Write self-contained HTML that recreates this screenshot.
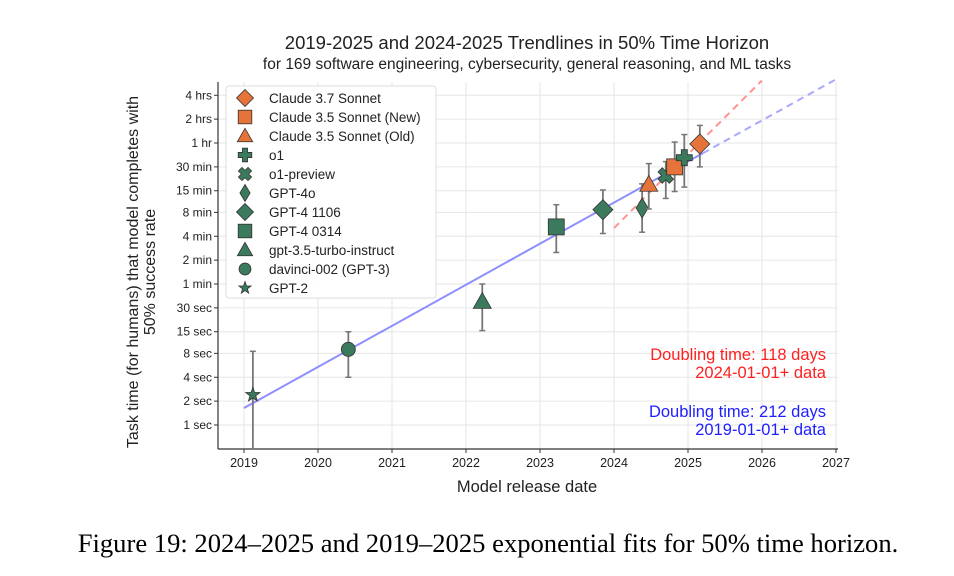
<!DOCTYPE html>
<html><head><meta charset="utf-8">
<style>
body{margin:0;background:#fff;width:954px;height:576px;overflow:hidden;font-family:"Liberation Sans",sans-serif;}
svg{position:absolute;left:0;top:0;}
</style></head>
<body>
<svg id="chart" width="954" height="576" viewBox="0 0 954 576" xmlns="http://www.w3.org/2000/svg">
<text x="527" y="49" text-anchor="middle" font-size="18.5" fill="#222">2019-2025 and 2024-2025 Trendlines in 50% Time Horizon</text>
<text x="527" y="69" text-anchor="middle" font-size="15.5" fill="#222">for 169 software engineering, cybersecurity, general reasoning, and ML tasks</text>
<g id="grid"></g>
<g id="axes"></g>
<g id="lines"></g>
<g id="points"></g>
<g id="legend"></g>
<text x="826" y="360" text-anchor="end" font-size="16.5" fill="#ff2020">Doubling time: 118 days</text>
<text x="826" y="378" text-anchor="end" font-size="16.5" fill="#ff2020">2024-01-01+ data</text>
<text x="826" y="417" text-anchor="end" font-size="16.5" fill="#2020ff">Doubling time: 212 days</text>
<text x="826" y="435" text-anchor="end" font-size="16.5" fill="#2020ff">2019-01-01+ data</text>
<text x="527" y="492" text-anchor="middle" font-size="16.5" fill="#222">Model release date</text>
<text transform="translate(138,272) rotate(-90)" text-anchor="middle" font-size="16" fill="#222">Task time (for humans) that model completes with</text>
<text transform="translate(155,272) rotate(-90)" text-anchor="middle" font-size="16" fill="#222">50% success rate</text>
<text x="488" y="552" text-anchor="middle" font-size="26.6" font-family="Liberation Serif, serif" fill="#000">Figure 19: 2024–2025 and 2019–2025 exponential fits for 50% time horizon.</text>
</svg>
<script>
const xTicks=[2019,2020,2021,2022,2023,2024,2025,2026,2027];
const yTickSecs=[1,2,4,8,15,30,60,120,240,480,900,1800,3600,7200,14400];
const yTickLabels=["1 sec","2 sec","4 sec","8 sec","15 sec","30 sec","1 min","2 min","4 min","8 min","15 min","30 min","1 hr","2 hrs","4 hrs"];
const models=["GPT-2","davinci-002 (GPT-3)","gpt-3.5-turbo-instruct","GPT-4 0314","GPT-4 1106","GPT-4o","Claude 3.5 Sonnet (Old)","o1-preview","Claude 3.5 Sonnet (New)","o1","Claude 3.7 Sonnet"];
const releaseYears=[2019.12,2020.41,2022.22,2023.22,2023.85,2024.38,2024.47,2024.70,2024.82,2024.95,2025.16];
const horizonSecs=[2.4,9,36,315,520,545,1080,1400,1800,2350,3500];
const errLowSecs=[0.1,4,15.5,150,260,270,530,720,880,1000,1800];
const errHighSecs=[8.5,15,60,600,920,1100,1980,2100,3700,4600,6000];
const markers=["star","circle","triangle","square","diamond","thindiamond","triangle","x","square","plus","diamond"];
const colors=["g","g","g","g","g","g","o","g","o","g","o"];
const legendOrder=[10,8,6,9,7,5,4,3,2,1,0];
const blueStart=[2019,0.71]; const blueDoubling=212; const blueSolidEnd=2025.2; const blueEnd=2027;
const redStart=[2024,8.25]; const redDoubling=118; const redEnd=2026;

const NS="http://www.w3.org/2000/svg";
const X0=244,PXY=74.0,Y1=425,PXD=23.87;
const xs=y=>X0+(y-2019)*PXY;
const ys=s=>Y1-Math.log2(s)*PXD;
const yl=l=>Y1-l*PXD;
const C={g:"#3b7a5c",o:"#e5733a"};
function mk(tag,attrs,parent){const e=document.createElementNS(NS,tag);for(const k in attrs)e.setAttribute(k,attrs[k]);parent.appendChild(e);return e;}
const grid=document.getElementById('grid'),axes=document.getElementById('axes');
const L=218,R=838,T=82,B=449;
xTicks.forEach(t=>{const x=xs(t);
 const g=mk('line',{x1:x,x2:x,y1:T,y2:B,stroke:'#e6e6e6','stroke-width':1},grid);
 
 mk('line',{x1:x,x2:x,y1:B,y2:B+4,stroke:'#333'},axes);
 const tx=mk('text',{x:x,y:B+18,'text-anchor':'middle','font-size':12.5,fill:'#222'},axes);tx.textContent=t;
 
});
yTickSecs.forEach((s,i)=>{const y=ys(s);
 const g=mk('line',{x1:L,x2:R,y1:y,y2:y,stroke:'#e6e6e6','stroke-width':1},grid);
 
 mk('line',{x1:L-4,x2:L,y1:y,y2:y,stroke:'#333'},axes);
 const tx=mk('text',{x:L-6,y:y+4,'text-anchor':'end','font-size':12,fill:'#222'},axes);tx.textContent=yTickLabels[i];
 
});
mk('line',{x1:L,x2:L,y1:T,y2:B,stroke:'#333','stroke-width':1.2},axes);
mk('line',{x1:L,x2:R,y1:B,y2:B,stroke:'#333','stroke-width':1.2},axes);
const lines=document.getElementById('lines');
function trend(start,dbl,y0,y1,color,dash,name){
 const f=y=>yl(start[1]+(y-start[0])*365/dbl);
 const l=mk('line',{x1:xs(y0),y1:f(y0),x2:xs(y1),y2:f(y1),stroke:color,'stroke-width':2,'stroke-dasharray':dash||'none',opacity:0.85},lines);
 
}
trend(blueStart,blueDoubling,blueStart[0],blueSolidEnd,'#7b7bff','', 'blue-trend-solid');
trend(blueStart,blueDoubling,blueSolidEnd,blueEnd,'#9a9aff','7,5','blue-trend-dashed');
trend(redStart,redDoubling,redStart[0],redEnd,'#ff8080','7,5','red-trend-dashed');

function marker(type,cx,cy,col,par,sc){
 sc=sc||1;const st={fill:col,stroke:'#333','stroke-width':0.8};let e;
 const a=o=>Object.assign({},st,o);
 if(type=='circle')e=mk('circle',a({cx:cx,cy:cy,r:7*sc}),par);
 else if(type=='square')e=mk('rect',a({x:cx-8*sc,y:cy-8*sc,width:16*sc,height:16*sc}),par);
 else if(type=='diamond'){const r=10*sc;e=mk('polygon',a({points:`${cx},${cy-r} ${cx+r},${cy} ${cx},${cy+r} ${cx-r},${cy}`}),par);}
 else if(type=='thindiamond'){const r=10*sc,w=6*sc;e=mk('polygon',a({points:`${cx},${cy-r} ${cx+w},${cy} ${cx},${cy+r} ${cx-w},${cy}`}),par);}
 else if(type=='triangle'){const r=9*sc;e=mk('polygon',a({points:`${cx},${cy-r} ${cx+r},${cy+r*0.75} ${cx-r},${cy+r*0.75}`}),par);}
 else if(type=='star'){let p=[];for(let i=0;i<10;i++){const rr=(i%2?3:7.5)*sc,an=-Math.PI/2+i*Math.PI/5;p.push((cx+rr*Math.cos(an)).toFixed(1)+','+(cy+rr*Math.sin(an)).toFixed(1));}e=mk('polygon',a({points:p.join(' ')}),par);}
 else if(type=='plus'){const w=3*sc,r=8*sc;e=mk('polygon',a({points:`${cx-w},${cy-r} ${cx+w},${cy-r} ${cx+w},${cy-w} ${cx+r},${cy-w} ${cx+r},${cy+w} ${cx+w},${cy+w} ${cx+w},${cy+r} ${cx-w},${cy+r} ${cx-w},${cy+w} ${cx-r},${cy+w} ${cx-r},${cy-w} ${cx-w},${cy-w}`}),par);}
 else if(type=='x'){const g=mk('g',{transform:`rotate(45 ${cx} ${cy})`},par);return marker('plus',cx,cy,col,g,sc);}
 return e;
}
const pts=document.getElementById('points');
models.forEach((m,i)=>{
 const x=xs(releaseYears[i]),y=ys(horizonSecs[i]);
 const g=mk('g',{},pts);
 const lo=Math.min(ys(errLowSecs[i]),B),hi=ys(errHighSecs[i]);
 mk('line',{x1:x,x2:x,y1:lo,y2:hi,stroke:'#777','stroke-width':1.8},g);
 mk('line',{x1:x-3,x2:x+3,y1:hi,y2:hi,stroke:'#777','stroke-width':1.5},g);
 if(lo<B)mk('line',{x1:x-3,x2:x+3,y1:lo,y2:lo,stroke:'#777','stroke-width':1.5},g);
 marker(markers[i],x,y,C[colors[i]],g);
});
const lg=document.getElementById('legend');
mk('rect',{x:226,y:86,width:210,height:212,rx:3,fill:'#fff',stroke:'#ddd','fill-opacity':0.9},lg);
legendOrder.forEach((idx,k)=>{const y=98+k*19;
 const g=mk('g',{},lg);
 marker(markers[idx],245,y,C[colors[idx]],g,0.85);
 const t=mk('text',{x:269,y:y+5,'font-size':13.5,fill:'#222'},g);t.textContent=models[idx];
});
</script>
</body></html>
